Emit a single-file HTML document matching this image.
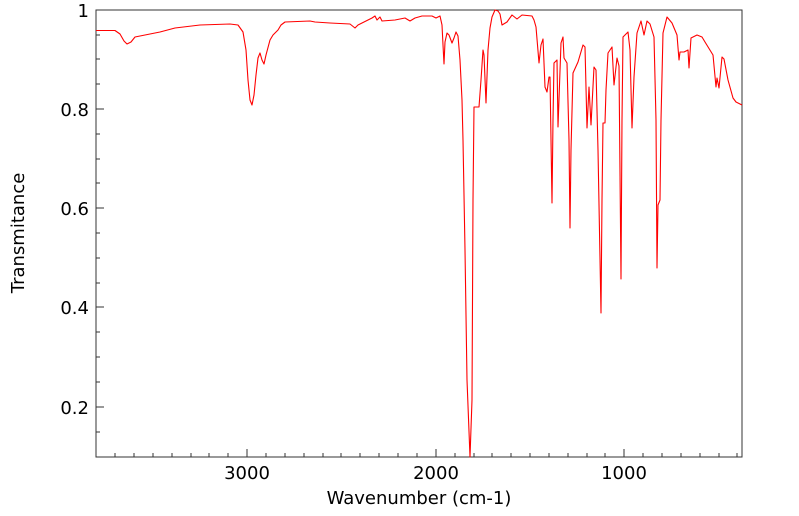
<!DOCTYPE html>
<html><head><style>
body{margin:0;background:#fff;}
svg{display:block;font-family:"DejaVu Sans","Liberation Sans",sans-serif;}
</style></head><body>
<svg width="799" height="516" viewBox="0 0 799 516">
<rect x="96" y="10" width="646" height="447" fill="none" stroke="#333" stroke-width="1"/>
<g stroke="#333" stroke-width="1">
<line x1="96" y1="10" x2="104" y2="10"/><line x1="96" y1="35" x2="100" y2="35"/><line x1="96" y1="59" x2="100" y2="59"/><line x1="96" y1="84" x2="100" y2="84"/>
<line x1="96" y1="109" x2="104" y2="109"/><line x1="96" y1="134" x2="100" y2="134"/><line x1="96" y1="159" x2="100" y2="159"/><line x1="96" y1="183" x2="100" y2="183"/>
<line x1="96" y1="208" x2="104" y2="208"/><line x1="96" y1="233" x2="100" y2="233"/><line x1="96" y1="258" x2="100" y2="258"/><line x1="96" y1="283" x2="100" y2="283"/>
<line x1="96" y1="307" x2="104" y2="307"/><line x1="96" y1="332" x2="100" y2="332"/><line x1="96" y1="357" x2="100" y2="357"/><line x1="96" y1="382" x2="100" y2="382"/>
<line x1="96" y1="407" x2="104" y2="407"/><line x1="96" y1="432" x2="100" y2="432"/>
<line x1="247" y1="457" x2="247" y2="449"/><line x1="436" y1="457" x2="436" y2="449"/><line x1="624" y1="457" x2="624" y2="449"/>
<line x1="115" y1="457" x2="115" y2="453"/><line x1="134" y1="457" x2="134" y2="453"/><line x1="153" y1="457" x2="153" y2="453"/><line x1="172" y1="457" x2="172" y2="453"/><line x1="191" y1="457" x2="191" y2="453"/><line x1="209" y1="457" x2="209" y2="453"/><line x1="228" y1="457" x2="228" y2="453"/>
<line x1="266" y1="457" x2="266" y2="453"/><line x1="285" y1="457" x2="285" y2="453"/><line x1="304" y1="457" x2="304" y2="453"/><line x1="323" y1="457" x2="323" y2="453"/><line x1="341" y1="457" x2="341" y2="453"/><line x1="360" y1="457" x2="360" y2="453"/><line x1="379" y1="457" x2="379" y2="453"/><line x1="398" y1="457" x2="398" y2="453"/><line x1="417" y1="457" x2="417" y2="453"/>
<line x1="455" y1="457" x2="455" y2="453"/><line x1="474" y1="457" x2="474" y2="453"/><line x1="492" y1="457" x2="492" y2="453"/><line x1="511" y1="457" x2="511" y2="453"/><line x1="530" y1="457" x2="530" y2="453"/><line x1="549" y1="457" x2="549" y2="453"/><line x1="568" y1="457" x2="568" y2="453"/><line x1="587" y1="457" x2="587" y2="453"/><line x1="605" y1="457" x2="605" y2="453"/>
<line x1="643" y1="457" x2="643" y2="453"/><line x1="662" y1="457" x2="662" y2="453"/><line x1="681" y1="457" x2="681" y2="453"/><line x1="700" y1="457" x2="700" y2="453"/><line x1="719" y1="457" x2="719" y2="453"/><line x1="737" y1="457" x2="737" y2="453"/>
</g>
<g font-size="18" fill="#000" text-anchor="end">
<text x="89" y="17">1</text><text x="89" y="116">0.8</text><text x="89" y="215">0.6</text><text x="89" y="314">0.4</text><text x="89" y="414">0.2</text>
</g>
<g font-size="18" fill="#000" text-anchor="middle">
<text x="247" y="479">3000</text><text x="436" y="479">2000</text><text x="624" y="479">1000</text>
<text x="419" y="504">Wavenumber (cm-1)</text>
<text transform="translate(24,233) rotate(-90)">Transmitance</text>
</g>
<polyline fill="none" stroke="#f00" stroke-width="1.1" stroke-linejoin="round" points="
96,30.5 115,30.5 120,34 124,41 127,44 131,42 135,37 145,35 160,32 175,28 200,25 230,24 238,25 243,32 246,50 248,80 250,100 252,105 254,95 256,75 258,58 260,53 262,60 264,64 266,55 270,40 273,35 278,30 281,25 285,22 310,21 315,22 330,23 350,24 355,28 358,25 372,18 375,16 377,20 380,17 382,21 395,20 405,18 410,21 415,18 422,16 432,16 436,18 440,16 442,25 443,45 444,64 445,42 447,33 449,35 452,43 454,38 456,32 458,36 460,60 462,100 463,140 465,250 467,380 470,457 472,400 473,200 474,107 477,107 479,107 481,80 483,50 484,55 486,103 488,50 490,28 492,17 495,10 498,11 500,14 502,25 507,22 512,15 517,19 522,15 532,16 534,20 536,27 539,63 541,45 543,39 545,87 547,92 549,77 550,77 551,140 552,203 553,120 554,63 557,60 558,127 561,43 563,37 564,58 567,63 569,140 570,228 571,150 573,73 578,62 583,45 585,47 587,128 589,87 591,125 594,67 596,70 598,150 601,313 602,200 603,123 605,123 606,90 608,53 612,47 614,85 617,58 619,66 621,279 622,120 623,37 628,32 630,50 632,128 634,77 637,33 641,21 644,35 647,21 650,24 654,37 656,120 657,268 658,205 660,200 661,120 663,33 667,17 672,23 677,35 679,60 680,52 684,52 688,50 689,68 691,38 697,35 702,37 705,42 713,55 716,87 717,78 719,88 722,57 724,59 728,80 733,98 736,102 742,105"/>
</svg>
</body></html>
